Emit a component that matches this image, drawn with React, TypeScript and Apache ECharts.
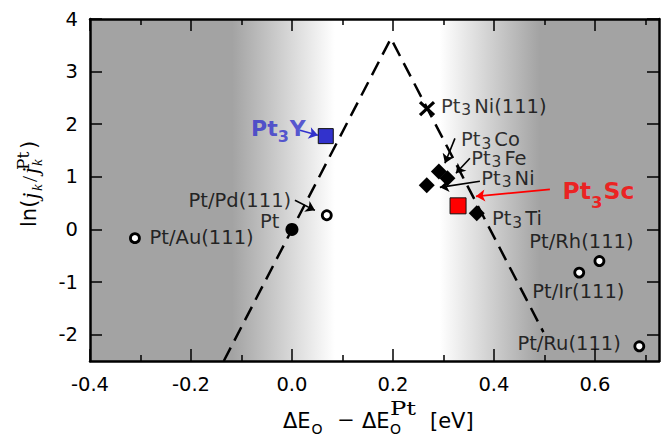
import React, { useEffect, useRef } from 'react';
import * as echarts from 'echarts';

// ---------- axes ----------
const X_MIN = -0.4;
const X_MAX = 0.727;
const Y_MIN = -2.5;
const Y_MAX = 4;
const xMajorTicks = [-0.4, -0.2, 0, 0.2, 0.4, 0.6];
const xMinorTicks = [-0.3, -0.1, 0.1, 0.3, 0.5, 0.7];
const yTicks = [-2, -1, 0, 1, 2, 3, 4];

// ---------- data ----------
const volcanoLine = [[-0.135, -2.5], [0.196, 3.63], [0.498, -1.95]];
const ptPoint = [[0, 0]];
const overlayerPoints = [[0.069, 0.27], [-0.311, -0.165], [0.609, -0.6], [0.569, -0.82], [0.688, -2.22]];
const alloyDiamonds = [[0.291, 1.1], [0.308, 0.975], [0.267, 0.838], [0.366, 0.306]];
const pt3NiSingle = [[0.2675, 2.297]];
const pt3YPoint = [[0.067, 1.774]];
const pt3ScPoint = [[0.329, 0.449]];

// ---------- annotations ----------
const labelTexts = [
  '{a|Pt}{s|3}{a|Ni(111)}',
  '{a|Pt}{s|3}{a|Co}',
  '{a|Pt}{s|3}{a|Fe}',
  '{a|Pt}{s|3}{a|Ni}',
  '{a|Pt}{s|3}{a|Ti}',
  '{a|Pt}{s|3}{a|Sc}',
  '{a|Pt}{s|3}{a|Y}',
  '{a|Pt/Pd(111)}',
  '{a|Pt}',
  '{a|Pt/Au(111)}',
  '{a|Pt/Rh(111)}',
  '{a|Pt/Ir(111)}',
  '{a|Pt/Ru(111)}',
];
const labelAnchors = [
  [0.296, 2.33],
  [0.336, 1.694],
  [0.356, 1.346],
  [0.376, 0.966],
  [0.397, 0.192],
  [0.537, 0.715],
  [-0.08, 1.903],
  [-0.0006, 0.549],
  [-0.0238, 0.145],
  [-0.281, -0.158],
  [0.471, -0.24],
  [0.477, -1.19],
  [0.4475, -2.171],
];
const labelAligns = ['left', 'left', 'left', 'left', 'left', 'left', 'left', 'right', 'right', 'left', 'left', 'left', 'left'];
const labelKinds = ['n', 'n', 'n', 'n', 'n', 'red', 'blue', 'n', 'n', 'n', 'n', 'n', 'n'];

const arrowStarts = [[0.0158, 1.884], [0.0059, 0.554], [0.3228, 1.732], [0.3525, 1.352], [0.3723, 0.915], [0.5109, 0.762]];
const arrowEnds = [[0.0515, 1.789], [0.0455, 0.363], [0.303, 1.257], [0.3248, 1.067], [0.293, 0.8], [0.3644, 0.629]];
const arrowColors = ['#3232cc', '#000', '#000', '#000', '#000', '#ff0000'];

const SANS = 'DejaVu Sans';
const SERIF = 'DejaVu Serif';
const BLUE = '#3232cc';
const RED = '#ff0000';

// subscript: verticalAlign top + top padding => sub centre = lineTop + P + fs/2
function richFor(kind: string) {
  if (kind === 'blue') {
    return {
      a: { fontFamily: SANS, fontSize: 22, fontWeight: 'bold', color: BLUE, lineHeight: 26 },
      s: { fontFamily: SANS, fontSize: 16, fontWeight: 'bold', color: BLUE, lineHeight: 1, verticalAlign: 'top', padding: [13, 1, 0, 0] },
    };
  }
  if (kind === 'red') {
    return {
      a: { fontFamily: SANS, fontSize: 23.5, fontWeight: 'bold', color: RED, lineHeight: 28 },
      s: { fontFamily: SANS, fontSize: 16.5, fontWeight: 'bold', color: RED, lineHeight: 1, verticalAlign: 'top', padding: [16.5, 1, 0, 0] },
    };
  }
  return {
    a: { fontFamily: SANS, fontSize: 19.5, color: '#000', lineHeight: 17 },
    s: { fontFamily: SANS, fontSize: 15.5, color: '#000', lineHeight: 1, verticalAlign: 'top', padding: [4.25, 3, 0, 1] },
  };
}

export default function App() {
  const ref = useRef<HTMLDivElement>(null);
  useEffect(() => {
    if (!ref.current) return;
    const chart = echarts.init(ref.current, undefined, { renderer: 'svg' });

    const tickLine = { color: '#000', width: 1.5 };
    const frameLine = { show: true, onZero: false, lineStyle: { color: '#000', width: 2.5 } };
    const hiddenLine = { show: false, onZero: false };
    const xBase = { type: 'value', min: X_MIN, max: X_MAX, splitLine: { show: false } };
    const yBase = { type: 'value', min: Y_MIN, max: Y_MAX, splitLine: { show: false } };

    const labelData = labelTexts.map((t, i) => ({
      value: labelAnchors[i],
      label: {
        show: true,
        position: [0, 0],
        align: labelAligns[i],
        verticalAlign: 'middle',
        formatter: t,
        rich: richFor(labelKinds[i]),
      },
    }));

    const arrowData = arrowStarts.map((s, i) => ({
      coords: [s, arrowEnds[i]],
      lineStyle: { color: arrowColors[i] },
    }));

    const option: any = {
      animation: false,
      backgroundColor: '#fff',
      grid: {
        left: 90,
        right: 2,
        top: 19,
        bottom: 75,
        show: true,
        borderWidth: 0,
        backgroundColor: new echarts.graphic.LinearGradient(0, 0, 1, 0, [
          { offset: 0, color: '#a3a3a3' },
          { offset: 0.25, color: '#a3a3a3' },
          { offset: 0.43, color: '#ffffff' },
          { offset: 0.615, color: '#ffffff' },
          { offset: 0.79, color: '#a3a3a3' },
          { offset: 1, color: '#a3a3a3' },
        ]),
      },
      xAxis: [
        {
          ...xBase,
          position: 'bottom',
          axisLine: frameLine,
          axisTick: { show: true, inside: true, length: 12, lineStyle: tickLine, customValues: xMajorTicks },
          axisLabel: {
            show: true,
            customValues: xMajorTicks,
            margin: 13,
            color: '#000',
            fontFamily: SANS,
            fontSize: 19.5,
            formatter: (v: number) => v.toFixed(1),
          },
        },
        {
          ...xBase,
          position: 'bottom',
          axisLine: hiddenLine,
          axisTick: { show: true, inside: true, length: 6, lineStyle: tickLine, customValues: xMinorTicks },
          axisLabel: { show: false },
        },
        {
          ...xBase,
          position: 'top',
          axisLine: frameLine,
          axisTick: { show: true, inside: true, length: 12, lineStyle: tickLine, customValues: xMajorTicks },
          axisLabel: { show: false },
        },
        {
          ...xBase,
          position: 'top',
          axisLine: hiddenLine,
          axisTick: { show: true, inside: true, length: 6, lineStyle: tickLine, customValues: xMinorTicks },
          axisLabel: { show: false },
        },
      ],
      yAxis: [
        {
          ...yBase,
          position: 'left',
          axisLine: frameLine,
          axisTick: { show: true, inside: true, length: 12, lineStyle: tickLine, customValues: yTicks },
          axisLabel: {
            show: true,
            customValues: yTicks,
            margin: 12,
            color: '#000',
            fontFamily: SANS,
            fontSize: 19.5,
          },
        },
        {
          ...yBase,
          position: 'right',
          axisLine: frameLine,
          axisTick: { show: true, inside: true, length: 12, lineStyle: tickLine, customValues: yTicks },
          axisLabel: { show: false },
        },
      ],
      series: [
        {
          type: 'line',
          data: volcanoLine,
          symbol: 'none',
          lineStyle: { color: '#000', width: 2.5, type: [15, 8] },
          z: 2,
          silent: true,
        },
        {
          type: 'scatter',
          data: ptPoint,
          symbol: 'circle',
          symbolSize: 13,
          itemStyle: { color: '#000', opacity: 1 },
          z: 3,
        },
        {
          type: 'scatter',
          data: overlayerPoints,
          symbol: 'circle',
          symbolSize: 9,
          itemStyle: { color: '#fff', borderColor: '#000', borderWidth: 2.8, opacity: 1 },
          z: 3,
        },
        {
          type: 'scatter',
          data: alloyDiamonds,
          symbol: 'diamond',
          symbolSize: 16,
          itemStyle: { color: '#000', opacity: 1 },
          z: 3,
        },
        {
          type: 'scatter',
          data: pt3NiSingle,
          symbol: 'path://M0,0L10,10M10,0L0,10',
          symbolSize: [14, 13],
          itemStyle: { color: '#000', borderColor: '#000', borderWidth: 3, opacity: 1 },
          z: 3,
        },
        {
          type: 'scatter',
          data: pt3YPoint,
          symbol: 'rect',
          symbolSize: 15,
          itemStyle: { color: BLUE, borderColor: '#111', borderWidth: 1, opacity: 1 },
          z: 3,
        },
        {
          type: 'scatter',
          data: pt3ScPoint,
          symbol: 'rect',
          symbolSize: 16,
          itemStyle: { color: RED, borderColor: '#111', borderWidth: 1, opacity: 1 },
          z: 3,
        },
        {
          type: 'lines',
          coordinateSystem: 'cartesian2d',
          data: arrowData,
          symbol: ['none', 'arrow'],
          symbolSize: 9,
          lineStyle: { width: 1.6, color: '#000', opacity: 1 },
          z: 5,
          silent: true,
        },
        {
          type: 'scatter',
          data: labelData,
          symbolSize: 1,
          itemStyle: { color: 'rgba(0,0,0,0)' },
          z: 6,
          silent: true,
        },
      ],
      graphic: [
        // x-axis title
        { type: 'text', x: 283, y: 420.5, style: { text: 'ΔE', fontFamily: SANS, fontSize: 21, fill: '#000', align: 'left', verticalAlign: 'middle' } },
        { type: 'text', x: 311.5, y: 428.5, style: { text: 'O', fontFamily: SANS, fontSize: 14, fill: '#000', align: 'left', verticalAlign: 'middle' } },
        { type: 'text', x: 346, y: 420, style: { text: '−', fontFamily: SERIF, fontSize: 21, fill: '#000', align: 'center', verticalAlign: 'middle' } },
        { type: 'text', x: 362, y: 420.5, style: { text: 'ΔE', fontFamily: SANS, fontSize: 21, fill: '#000', align: 'left', verticalAlign: 'middle' } },
        { type: 'text', x: 390, y: 409, scaleX: 1.35, style: { text: 'Pt', fontFamily: SERIF, fontSize: 18, fill: '#000', align: 'left', verticalAlign: 'middle' } },
        { type: 'text', x: 390, y: 428.5, style: { text: 'O', fontFamily: SANS, fontSize: 14, fill: '#000', align: 'left', verticalAlign: 'middle' } },
        { type: 'text', x: 430, y: 420.5, style: { text: '[eV]', fontFamily: SANS, fontSize: 21, fill: '#000', align: 'left', verticalAlign: 'middle' } },
        // y-axis title (rotated)
        {
          type: 'group',
          x: 29,
          y: 227,
          rotation: Math.PI / 2,
          children: [
            { type: 'text', x: 0, y: 0, style: { text: 'ln(', fontFamily: SANS, fontSize: 21, fill: '#000', align: 'left', verticalAlign: 'middle' } },
            { type: 'text', x: 28, y: 1, style: { text: 'j', fontFamily: 'Liberation Serif', fontStyle: 'italic', fontSize: 23, fill: '#000', align: 'left', verticalAlign: 'middle' } },
            { type: 'text', x: 36, y: 8, style: { text: 'k', fontFamily: 'Liberation Serif', fontStyle: 'italic', fontSize: 15, fill: '#000', align: 'left', verticalAlign: 'middle' } },
            { type: 'text', x: 45, y: 0, style: { text: '/', fontFamily: 'Liberation Serif', fontSize: 22, fill: '#000', align: 'left', verticalAlign: 'middle' } },
            { type: 'text', x: 53, y: 1, style: { text: 'j', fontFamily: 'Liberation Serif', fontStyle: 'italic', fontSize: 23, fill: '#000', align: 'left', verticalAlign: 'middle' } },
            { type: 'text', x: 61, y: 8, style: { text: 'k', fontFamily: 'Liberation Serif', fontStyle: 'italic', fontSize: 15, fill: '#000', align: 'left', verticalAlign: 'middle' } },
            { type: 'text', x: 57, y: -6, style: { text: 'Pt', fontFamily: SERIF, fontSize: 17, fill: '#000', align: 'left', verticalAlign: 'middle' } },
            { type: 'text', x: 78, y: 0, style: { text: ')', fontFamily: SANS, fontSize: 21, fill: '#000', align: 'left', verticalAlign: 'middle' } },
          ],
        },
      ],
    };

    chart.setOption(option);
    return () => chart.dispose();
  }, []);

  return (
    <div
      ref={ref}
      style={{ position: 'fixed', left: 0, top: 0, width: 661, height: 436, background: '#fff' }}
    />
  );
}
